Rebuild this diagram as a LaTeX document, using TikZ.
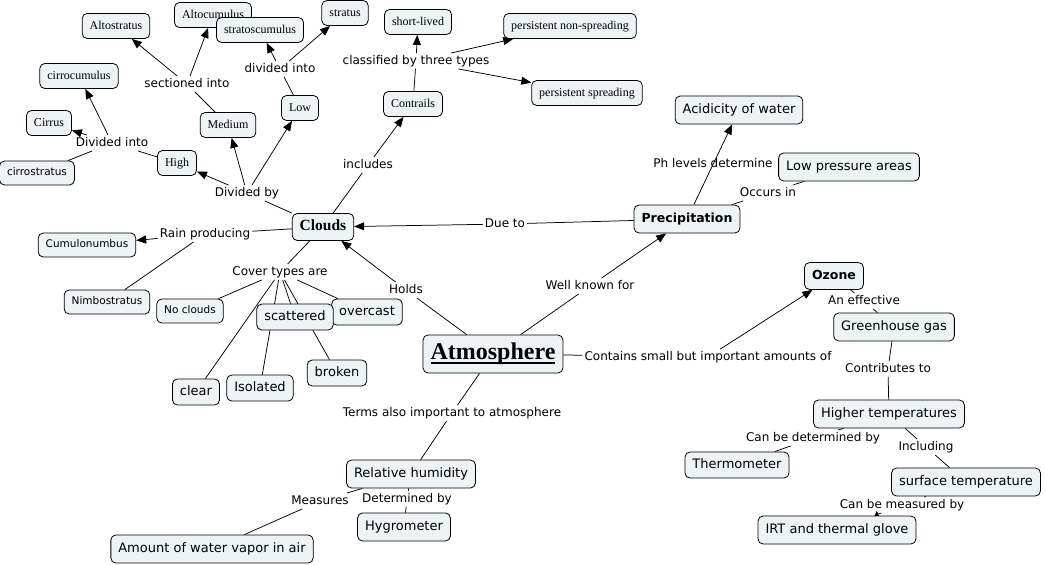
\documentclass[tikz,border=0pt]{standalone}
\usepackage{fontspec}
\setmainfont{Liberation Serif}
\setsansfont{DejaVu Sans}
\usetikzlibrary{arrows.meta,backgrounds}
\definecolor{cmapfill}{HTML}{EEF3F5}
\newcommand{\ulword}[1]{\setbox0\hbox{#1}\rlap{\vrule width \wd0 height -2.4pt depth 4.0pt}\box0}
\begin{document}
\begin{tikzpicture}[x=1pt, y=-1pt,
    cpt/.style={draw, rounded corners=5pt, fill=cmapfill, line width=0.8pt, inner xsep=7.5pt, inner ysep=0pt,
      minimum height=25pt, text height=8.5pt, text depth=2.5pt, font=\fontsize{12}{14}\selectfont},
    scpt/.style={cpt, minimum height=28pt, text height=9.5pt, text depth=3pt, font=\sffamily\fontsize{13}{15}\selectfont},
    tcpt/.style={cpt, minimum height=24pt, text height=8pt, text depth=2.5pt, font=\sffamily\fontsize{10.5}{12}\selectfont},
    lbl/.style={inner sep=2pt, text height=9pt, text depth=2.5pt, font=\sffamily\fontsize{12}{14}\selectfont},
    link/.style={line width=0.75pt},
    arr/.style={link, -{Triangle[length=10pt,width=8pt]}}]
  \useasboundingbox (0,0) rectangle (1045,565);
  \node[cpt] (alto) at (116,26){Altostratus};
  \node[cpt] (altocu) at (213,15){Altocumulus};
  \node[cpt] (stratocu) at (260,30){stratoscumulus};
  \node[cpt] (stratus) at (345,13){stratus};
  \node[cpt] (cirrocu) at (79,76){cirrocumulus};
  \node[cpt] (cirrus) at (49,123){Cirrus};
  \node[tcpt] (cirrost) at (37,173){cirrostratus};
  \node[cpt] (high) at (177,163){High};
  \node[cpt] (medium) at (228,125){Medium};
  \node[cpt] (low) at (300,108){Low};
  \node[cpt] (short) at (418,22){short-lived};
  \node[cpt] (pns) at (570,26){persistent non-spreading};
  \node[cpt] (ps) at (587,93){persistent spreading};
  \node[cpt] (contrails) at (413,104){Contrails};
  \node[cpt, minimum height=27pt, font=\bfseries\fontsize{15.5}{17}\selectfont] (clouds) at (323,227){Clouds};
  \node[tcpt] (cumulo) at (87,245){Cumulonumbus};
  \node[tcpt] (nimbo) at (107,302){Nimbostratus};
  \node[tcpt] (noclouds) at (190,311){No clouds};
  \node[scpt, minimum height=26pt] (overcast) at (367,312){overcast};
  \node[scpt, minimum height=26pt] (scattered) at (295,317){scattered};
  \node[scpt, minimum height=26pt] (clear) at (196,392){clear};
  \node[scpt, minimum height=26pt] (isolated) at (260,388){Isolated};
  \node[scpt, minimum height=26pt] (broken) at (337,373){broken};
  \node[cpt, minimum height=38pt, text height=16pt, text depth=5pt, font=\bfseries\fontsize{24}{26}\selectfont] (atmos) at (493,354){\ulword{Atmosphere}};
  \node[scpt, font=\sffamily\bfseries\fontsize{12.5}{15}\selectfont] (precip) at (687,219){Precipitation};
  \node[scpt] (acid) at (739,110){Acidicity of water};
  \node[scpt] (lowp) at (849,167){Low pressure areas};
  \node[scpt, minimum height=27pt, font=\sffamily\bfseries\fontsize{12.5}{15}\selectfont] (ozone) at (834,276){Ozone};
  \node[scpt] (green) at (894,327){Greenhouse gas};
  \node[scpt] (higher) at (889,414){Higher temperatures};
  \node[scpt, minimum height=26pt] (thermo) at (737,465){Thermometer};
  \node[scpt] (surface) at (966,482){surface temperature};
  \node[scpt] (irt) at (837,530){IRT and thermal glove};
  \node[scpt] (relh) at (411,474){Relative humidity};
  \node[scpt] (hygro) at (404,527){Hygrometer};
  \node[scpt] (amount) at (212,549){Amount of water vapor in air};
  \node[lbl] (lsect) at (187,84){sectioned into};
  \node[lbl] (ldivlow) at (280,69){divided into};
  \node[lbl] (ldivhigh) at (112,143){Divided into};
  \node[lbl] (ldivby) at (247,193){Divided by};
  \node[lbl] (lclass) at (416,61){classified by three types};
  \node[lbl] (lincl) at (368,165){includes};
  \node[lbl] (lrain) at (205,234){Rain producing};
  \node[lbl] (lcover) at (280,272){Cover types are};
  \node[lbl] (lholds) at (406,290){Holds};
  \node[lbl] (lwell) at (590,286){Well known for};
  \node[lbl] (ldue) at (505,224){Due to};
  \node[lbl] (lph) at (713,164){Ph levels determine};
  \node[lbl] (loccurs) at (768,193){Occurs in};
  \node[lbl] (leffective) at (864,301){An effective};
  \node[lbl] (lcontains) at (708,357){Contains small but important amounts of};
  \node[lbl] (lcontrib) at (888,369){Contributes to};
  \node[lbl] (ldetermined) at (813,438){Can be determined by};
  \node[lbl] (lincluding) at (926,447){Including};
  \node[lbl] (lmeasured) at (902,505){Can be measured by};
  \node[lbl] (lterms) at (452,413){Terms also important to atmosphere};
  \node[lbl] (lmeasures) at (320,501){Measures};
  \node[lbl] (ldetby) at (407,499){Determined by};
  \begin{pgfonlayer}{background}
    \draw[link](clouds) -- (ldivby);
    \draw[arr](ldivby) -- (high);
    \draw[arr](ldivby) -- (medium);
    \draw[arr](ldivby) -- (low);
    \draw[link](high) -- (ldivhigh);
    \draw[arr](ldivhigh) -- (cirrocu);
    \draw[arr](ldivhigh) -- (cirrus);
    \draw[link](ldivhigh) -- (cirrost);
    \draw[link](medium) -- (lsect);
    \draw[arr](lsect) -- (alto);
    \draw[arr](lsect) -- (altocu);
    \draw[link](low) -- (ldivlow);
    \draw[arr](ldivlow) -- (stratocu);
    \draw[arr](ldivlow) -- (stratus);
    \draw[link](clouds) -- (lincl);
    \draw[arr](lincl) -- (contrails);
    \draw[link](contrails) -- (lclass);
    \draw[arr](lclass) -- (short);
    \draw[arr](lclass) -- (pns);
    \draw[arr](lclass) -- (ps);
    \draw[link](clouds) -- (lrain);
    \draw[arr](lrain) -- (cumulo);
    \draw[link](lrain) -- (nimbo);
    \draw[link](clouds) -- (lcover);
    \draw[link](lcover) -- (noclouds);
    \draw[link](lcover) -- (clear);
    \draw[link](lcover) -- (isolated);
    \draw[link](lcover) -- (scattered);
    \draw[link](lcover) -- (broken);
    \draw[link](lcover) -- (overcast);
    \draw[link](atmos) -- (lholds);
    \draw[arr](lholds) -- (clouds);
    \draw[link](precip) -- (ldue);
    \draw[arr](ldue) -- (clouds);
    \draw[link](atmos) -- (lwell);
    \draw[arr](lwell) -- (precip);
    \draw[arr](precip) -- (acid);
    \draw[link](precip) -- (loccurs);
    \draw[link](loccurs) -- (lowp);
    \draw[link](atmos) -- (lcontains);
    \draw[arr](lcontains) -- (ozone);
    \draw[link](ozone) -- (leffective);
    \draw[link](leffective) -- (green);
    \draw[link](green) -- (lcontrib);
    \draw[link](lcontrib) -- (higher);
    \draw[link](higher) -- (ldetermined);
    \draw[link](ldetermined) -- (thermo);
    \draw[link](higher) -- (lincluding);
    \draw[link](lincluding) -- (surface);
    \draw[link](surface) -- (lmeasured);
    \draw[link, -{Triangle[length=4pt,width=7pt]}](lmeasured) -- (irt);
    \draw[link](atmos) -- (lterms);
    \draw[link](lterms) -- (relh);
    \draw[link](relh) -- (lmeasures);
    \draw[link](lmeasures) -- (amount);
    \draw[link](relh) -- (ldetby);
    \draw[link](ldetby) -- (hygro);
  \end{pgfonlayer}
\end{tikzpicture}
\end{document}
